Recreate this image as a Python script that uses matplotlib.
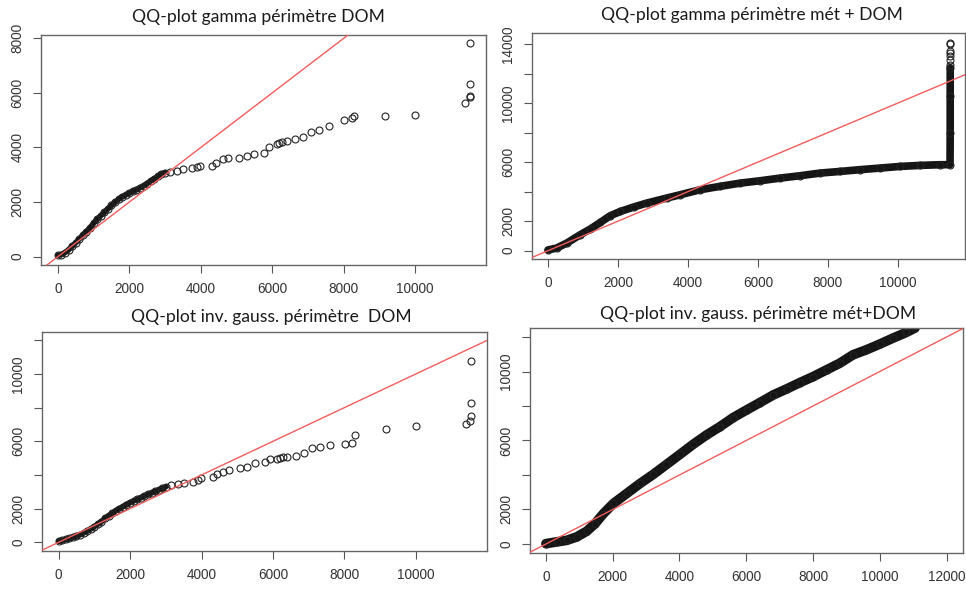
import matplotlib.pyplot as plt

plt.rcParams['font.family'] = ['Liberation Sans', 'DejaVu Sans']

# sample quantiles (x) shared by the two "DOM" panels
dom_x = [0, 100, 200, 300, 400, 500, 600, 700, 800, 900,
         1000, 1100, 1200, 1300, 1400, 1500, 1600, 1700, 1800, 1900,
         2000, 2100, 2200, 2300, 2400, 2500, 2600, 2700, 2800, 2900, 3000,
         3150, 3330, 3510, 3750, 3890, 3980, 4310, 4440, 4610, 4770,
         5080, 5280, 5500, 5780, 5910, 6120, 6200, 6280, 6400, 6640,
         6870, 7080, 7310, 7600, 8020, 8220, 8290, 9160, 9990, 11400,
         11520, 11530, 11530, 11530]
n_dense = 31  # first points form the dense cloud

# theoretical quantiles, gamma fit, DOM
gamma_dom_y = [50, 80, 150, 250, 380, 510, 650, 780, 920, 1060,
               1220, 1370, 1500, 1620, 1750, 1880, 1990, 2100, 2200, 2260,
               2330, 2400, 2460, 2530, 2600, 2680, 2780, 2850, 2940, 3030, 3080,
               3100, 3140, 3210, 3240, 3300, 3330, 3340, 3420, 3565, 3600,
               3630, 3700, 3750, 3790, 4006, 4116, 4150, 4213, 4238, 4311,
               4396, 4556, 4629, 4787, 4995, 5093, 5142, 5166, 5190, 5641,
               5838, 5900, 6315, 7817]

# theoretical quantiles, inverse gaussian fit, DOM
invg_dom_y = [60, 110, 170, 230, 300, 370, 450, 560, 670, 790,
              930, 1080, 1230, 1420, 1580, 1720, 1880, 2000, 2120, 2240,
              2360, 2460, 2550, 2650, 2750, 2840, 2930, 3030, 3110, 3200, 3300,
              3399, 3480, 3520, 3594, 3700, 3832, 3892, 4050, 4200, 4288,
              4389, 4448, 4723, 4783, 4921, 4940, 4980, 5079, 5090, 5138,
              5300, 5593, 5652, 5789, 5848, 5908, 6364, 6738, 6898, 7034,
              7212, 7509, 8244, 10771]

# gamma fit, met + DOM (dense band, then sparse top tail)
gamma_all_x = [0, 250, 540, 920, 1210, 1500, 1780, 2070, 2450, 2830,
               3400, 3780, 4350, 4920, 5500, 6070, 6640, 7210, 7780, 8350,
               8920, 9500, 10070, 10640, 11210, 11495, 11500, 11500, 11500]
gamma_all_y = [50, 180, 520, 1080, 1470, 1920, 2370, 2660, 2960, 3230,
               3570, 3790, 4130, 4360, 4580, 4740, 4920, 5080, 5260, 5370,
               5490, 5600, 5710, 5780, 5825, 5830, 8000, 10500, 12400]
gamma_tail_x = [11500, 11500, 11500, 11500, 11500, 11500, 11500]
gamma_tail_y = [12600, 12940, 13160, 13390, 13500, 14000, 14070]

# inverse gaussian fit, met + DOM
invg_all_x = [0, 320, 620, 920, 1220, 1470, 1720, 2020, 2420, 2820,
              3210, 3610, 4010, 4410, 4810, 5210, 5610, 6010, 6410, 6810,
              7210, 7610, 8010, 8410, 8800, 9200, 9600, 10000, 10400, 10800, 11050]
invg_all_y = [20, 120, 210, 410, 740, 1180, 1760, 2350, 2930, 3510,
              4030, 4610, 5190, 5780, 6320, 6800, 7330, 7770, 8200, 8640,
              8990, 9360, 9710, 10100, 10480, 10970, 11260, 11590, 11940, 12270, 12520]

titles = ["QQ-plot gamma périmètre DOM",
          "QQ-plot gamma périmètre mét + DOM",
          "QQ-plot inv. gauss. périmètre  DOM",
          "QQ-plot inv. gauss. périmètre mét+DOM"]

fig = plt.figure(figsize=(9.66, 5.89), dpi=100)
W, H = 966, 589


def r_axes(box, xlim, ylim, xticks, yticks, ylabels, title, title_xy):
    l, t, r, b = box
    ax = fig.add_axes([l / W, 1 - b / H, (r - l) / W, (b - t) / H])
    ax.set_xlim(xlim)
    ax.set_ylim(ylim)
    ax.set_xticks(xticks)
    ax.set_xticklabels([str(v) for v in xticks])
    ax.set_yticks(yticks)
    ax.set_yticklabels(ylabels, rotation=90, va='center')
    ax.tick_params(direction='out', length=6, width=0.8, color='#555555',
                   labelsize=9.8, labelcolor='#333333', pad=6)
    for s in ax.spines.values():
        s.set_color('#666666')
        s.set_linewidth(1.0)
    ax.axline((0, 0), slope=1, color='#f25c5c', lw=1, zorder=3)
    fig.text(title_xy[0] / W, 1 - title_xy[1] / H, title, ha='center', va='center',
             fontsize=12.6, family=['Lato', 'DejaVu Sans'], color='#1a1a1a')
    return ax


circle = dict(ls='none', marker='o', ms=5, mfc='none', mec='#222222', mew=0.8, zorder=2)
band = dict(color='#151515', solid_capstyle='round', solid_joinstyle='round', zorder=2)

# top left
ax1 = r_axes((41, 35, 486, 265), (-470, 11980), (-304, 8120),
             list(range(0, 10001, 2000)), list(range(0, 8001, 2000)),
             ['0', '2000', '4000', '6000', '8000'], titles[0], (258, 17))
ax1.plot(dom_x[:n_dense], gamma_dom_y[:n_dense], lw=4, **band)
ax1.plot(dom_x, gamma_dom_y, **circle)

# top right
ax2 = r_axes((532, 33, 965, 259), (-457, 11923), (-562, 14750),
             list(range(0, 10001, 2000)), list(range(0, 14001, 2000)),
             ['0', '2000', '', '6000', '', '10000', '', '14000'], titles[1], (752, 15))
ax2.plot(gamma_all_x, gamma_all_y, lw=5.5, **band)
ax2.plot(gamma_all_x, gamma_all_y, **circle)
ax2.plot(gamma_tail_x, gamma_tail_y, **circle)

# bottom left
ax3 = r_axes((42, 332, 487, 551), (-465, 11990), (-516, 12490),
             list(range(0, 10001, 2000)), list(range(0, 12001, 2000)),
             ['0', '2000', '', '6000', '', '10000', ''], titles[2], (271, 317))
ax3.plot(dom_x[:n_dense], invg_dom_y[:n_dense], lw=4, **band)
ax3.plot(dom_x, invg_dom_y, **circle)

# bottom right
ax4 = r_axes((530, 328, 963, 553), (-479, 12494), (-523, 12523),
             list(range(0, 12001, 2000)), list(range(0, 12001, 2000)),
             ['0', '2000', '', '6000', '', '10000', ''], titles[3], (758, 314))
ax4.plot(invg_all_x, invg_all_y, lw=7, **band)
ax4.plot(invg_all_x, invg_all_y, **circle)

fig.savefig('out.png', dpi=100)
